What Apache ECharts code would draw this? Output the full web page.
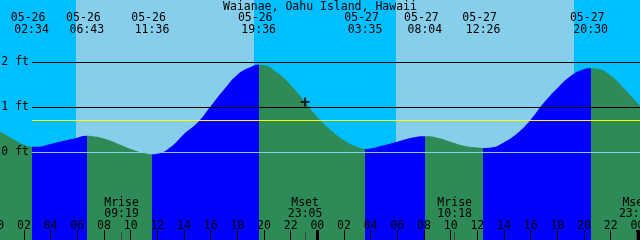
<!DOCTYPE html>
<html>
<head>
<meta charset="utf-8">
<script src="https://cdn.jsdelivr.net/npm/echarts@6/dist/echarts.min.js"></script>
<style>
  html, body { margin: 0; padding: 0; background: #00bfff; }
  #tide { width: 640px; height: 240px; }
</style>
</head>
<body>
<div id="tide"></div>
<script>
  var place = 'Waianae, Oahu Island, Hawaii'

  // tide height (ft), one per hour from 05-26 00:00
  var hourlyFt = [0.50, 0.33, 0.17, 0.13, 0.19, 0.26, 0.33, 0.365, 0.31, 0.20,
    0.08, -0.01, -0.03, 0.12, 0.41, 0.66, 1.03, 1.40, 1.73, 1.90,
    1.94, 1.77, 1.50, 1.15, 0.79, 0.50, 0.27, 0.12, 0.09, 0.16,
    0.24, 0.32, 0.36, 0.33, 0.24, 0.15, 0.11, 0.11, 0.23, 0.43,
    0.73, 1.11, 1.43, 1.70, 1.85, 1.86, 1.71, 1.42, 1.10, 0.78]

  // highs and lows
  var tideDates = ['05-26', '05-26', '05-26', '05-26', '05-27', '05-27', '05-27', '05-27']
  var tideTimes = ['02:34', '06:43', '11:36', '19:36', '03:35', '08:04', '12:26', '20:30']
  var tideKind = ['L', 'H', 'L', 'H', 'L', 'H', 'L', 'H']
  var tideFt = [0.13, 0.37, -0.04, 1.95, 0.08, 0.36, 0.10, 1.87]

  // daylight
  var sunDates = ['05-26', '05-27']
  var sunrise = ['05:54', '05:54']
  var sunset = ['19:15', '19:15']

  // moon
  var moonDates = ['05-26', '05-26', '05-27', '05-27']
  var moonNames = ['Mrise', 'Mset', 'Mrise', 'Mset']
  var moonTimes = ['09:19', '23:05', '10:18', '23:55']

  // reference lines
  var gridFt = [2, 1]
  var datumFt = 0
  var meanFt = 0.71

  // current-time marker
  var nowMark = ['05-26', '23:05', 1.12]

  function toHour(date, time) {
    var day = parseInt(date.slice(3), 10) - 26
    var p = time.split(':')
    return day * 24 + parseInt(p[0], 10) + parseInt(p[1], 10) / 60
  }
  function pad(n) { return (n < 10 ? '0' : '') + n }

  var tideHours = tideDates.map(function (d, i) { return toHour(d, tideTimes[i]) })
  var moonHours = moonDates.map(function (d, i) { return toHour(d, moonTimes[i]) })

  var curve = hourlyFt.map(function (v, h) { return [h, v] })
  tideHours.forEach(function (h, i) { curve.push([h, tideFt[i]]) })
  curve.sort(function (a, b) { return a[0] - b[0] })

  var rise = '#0000ff', fall = '#2e8b57'
  var pieces = []
  tideHours.forEach(function (h, i) {
    var p = { lt: h, color: tideKind[i] === 'H' ? rise : fall }
    if (i > 0) p.gte = tideHours[i - 1]
    pieces.push(p)
  })
  pieces.push({ gte: tideHours[tideHours.length - 1], color: tideKind[tideKind.length - 1] === 'H' ? fall : rise })

  var dayBands = sunDates.map(function (d, i) {
    return [{ xAxis: toHour(d, sunrise[i]) }, { xAxis: toHour(d, sunset[i]) }]
  })

  var font = 'DejaVu Sans Mono'
  var txt = { color: '#000', fontFamily: font, fontSize: 11.5 }
  var yMin = -1.9444, yMax = 3.3889, xMax = 48.2
  var noLine = { show: false, onZero: false }

  function findIdx(arr, v) {
    for (var i = 0; i < arr.length; i++) if (Math.abs(arr[i] - v) < 1e-6) return i
    return -1
  }

  var chart = echarts.init(document.getElementById('tide'))
  chart.setOption({
    animation: false,
    title: {
      text: place, left: 'center', top: 1, padding: 0, z: 10,
      textStyle: Object.assign({ fontWeight: 'normal' }, txt)
    },
    grid: [
      { left: -2.667, right: 0, top: 0, bottom: 0, show: true, backgroundColor: '#00bfff', borderWidth: 0, containLabel: false, outerBoundsMode: 'none' },
      { left: 32, right: 0, top: 0, bottom: 0, containLabel: false, outerBoundsMode: 'none' }
    ],
    xAxis: [
      {
        gridIndex: 0, type: 'value', min: 0, max: xMax, interval: 2, position: 'bottom', z: 10,
        axisLine: noLine, splitLine: { show: false },
        axisTick: { inside: true, length: 10, lineStyle: { color: '#000', width: 1 } },
        axisLabel: Object.assign({
          inside: true, margin: 8,
          formatter: function (v) { return v % 2 === 0 ? pad(v % 24) : '' }
        }, txt)
      },
      { gridIndex: 1, type: 'value', min: 0, max: xMax, show: false, axisLine: noLine },
      {
        gridIndex: 0, type: 'value', min: 0, max: xMax, position: 'top', z: 10,
        axisLine: noLine, splitLine: { show: false }, axisTick: { show: false },
        axisLabel: Object.assign({
          inside: true, margin: 12.5, lineHeight: 12, customValues: tideHours,
          formatter: function (v) {
            var i = findIdx(tideHours, v)
            return i < 0 ? '' : tideDates[i] + ' \n' + tideTimes[i]
          }
        }, txt)
      },
      {
        gridIndex: 0, type: 'value', min: 0, max: xMax, interval: 24, position: 'bottom', z: 10,
        axisLine: noLine, splitLine: { show: false }, axisLabel: { show: false },
        axisTick: { inside: true, length: 10, lineStyle: { color: '#000', width: 3 } }
      },
      {
        gridIndex: 0, type: 'value', min: 0, max: xMax, position: 'bottom', z: 10,
        axisLine: noLine, splitLine: { show: false },
        axisTick: { inside: true, length: 8, customValues: moonHours, lineStyle: { color: '#404040', width: 1 } },
        axisLabel: Object.assign({
          inside: true, margin: 20, lineHeight: 11, customValues: moonHours,
          formatter: function (v) {
            var i = findIdx(moonHours, v)
            return i < 0 ? '' : moonNames[i] + '\n' + moonTimes[i]
          }
        }, txt)
      }
    ],
    yAxis: [
      { gridIndex: 0, type: 'value', min: yMin, max: yMax, show: false, axisLine: noLine },
      { gridIndex: 1, type: 'value', min: yMin, max: yMax, show: false, axisLine: noLine }
    ],
    visualMap: {
      type: 'piecewise', show: false, seriesIndex: 2, dimension: 0, pieces: pieces
    },
    series: [
      {
        // daylight
        type: 'line', xAxisIndex: 0, yAxisIndex: 0, data: [], z: 1, silent: true,
        markArea: { silent: true, itemStyle: { color: '#87ceeb', opacity: 1 }, data: dayBands }
      },
      {
        type: 'line', xAxisIndex: 1, yAxisIndex: 1, data: [], z: 2, silent: true,
        markLine: {
          silent: true, symbol: 'none',
          lineStyle: { color: '#000', width: 1, type: 'solid' },
          label: Object.assign({ position: 'start', distance: 3, formatter: function (p) { return p.value + ' ft' } }, txt),
          data: gridFt.map(function (v) { return { yAxis: v } })
        }
      },
      {
        type: 'line', xAxisIndex: 0, yAxisIndex: 0, data: curve, z: 3, silent: true,
        smooth: true, showSymbol: false,
        lineStyle: { width: 0 },
        areaStyle: { origin: 'start', opacity: 1 }
      },
      {
        type: 'line', xAxisIndex: 1, yAxisIndex: 1, data: [], z: 4, silent: true,
        markLine: {
          silent: true, symbol: 'none',
          lineStyle: { width: 1, type: 'solid' },
          data: [
            {
              yAxis: datumFt, lineStyle: { color: '#87ceeb' },
              label: Object.assign({ position: 'start', distance: 3, formatter: function (p) { return p.value + ' ft' } }, txt)
            },
            { yAxis: meanFt, lineStyle: { color: '#ffff00' }, label: { show: false } }
          ]
        }
      },
      {
        type: 'scatter', xAxisIndex: 0, yAxisIndex: 0, z: 5, silent: true,
        symbol: 'path://M3.5,0h2v3.5h3.5v2h-3.5v3.5h-2v-3.5h-3.5v-2h3.5z',
        symbolSize: 9, itemStyle: { color: '#000' },
        data: [[toHour(nowMark[0], nowMark[1]), nowMark[2]]]
      }
    ]
  })
</script>
</body>
</html>
